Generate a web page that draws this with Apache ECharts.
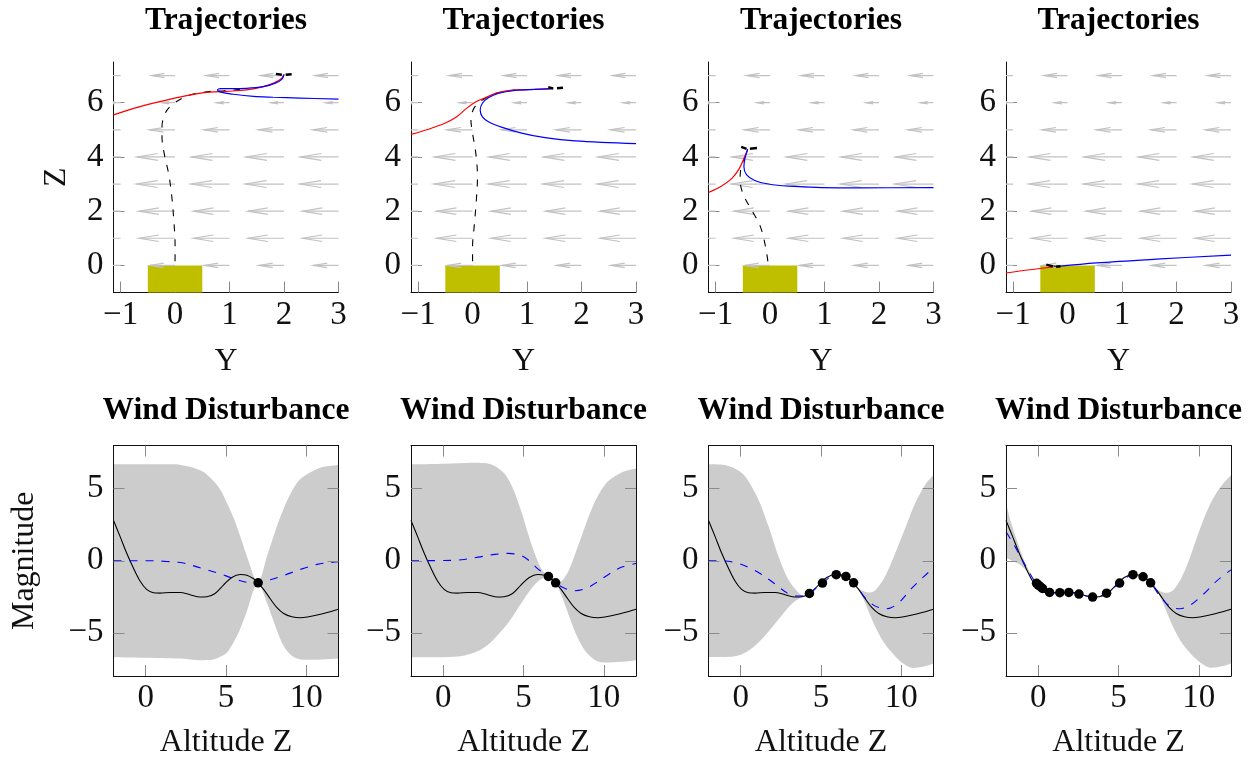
<!DOCTYPE html>
<html><head><meta charset="utf-8">
<style>html,body{margin:0;padding:0;background:#fff}#c{width:1255px;height:759px}</style>
<script src="https://cdn.jsdelivr.net/npm/echarts@6/dist/echarts.min.js"></script>
</head><body><div id="c"></div>
<script>
// ---- Wind field (quiver) ----
const quiverTailsY = [-1, 0, 1, 2, 3];
const quiverRowsZ = [0, 1, 2, 3, 4, 5, 6, 7];
const quiverLengths = [0.46, 0.66, 0.66, 0.71, 0.70, 0.47, 0.24, 0.43];
const padY = [-0.5, 0.5];
const padZ = [-1, 0];

// ---- Trajectories: [Y, Z] ----
const red1 = [[-1.13,5.55],[-0.76,5.79],[-0.28,6.04],[0.21,6.26],[0.58,6.38],[0.95,6.42],[1.31,6.47],[1.62,6.59],[1.83,6.74],[1.96,6.9],[2.0,7.04]];
const blue1 = [[2.0,7.04],[1.96,6.86],[1.83,6.71],[1.62,6.59],[1.31,6.53],[1.01,6.52],[0.83,6.52],[0.78,6.47],[0.84,6.39],[1.07,6.31],[1.44,6.23],[1.8,6.2],[2.29,6.17],[3.0,6.13]];
const black1 = [[0,0.15],[0,0.82],[-0.02,1.56],[-0.06,2.54],[-0.12,3.4],[-0.2,4.13],[-0.24,4.75],[-0.24,5.12],[-0.18,5.61],[-0.06,5.91],[0.21,6.24],[0.58,6.4],[0.89,6.44],[1.19,6.49]];
const drone1 = [[1.85,7.06],[1.96,7.03],null,[2.03,7.03],[2.14,7.05]];

const red2 = [[-1.13,4.83],[-0.81,5.02],[-0.51,5.24],[-0.29,5.48],[-0.11,5.79],[0.07,6.04],[0.23,6.18],[0.47,6.37],[0.78,6.47],[1.14,6.49],[1.48,6.52]];
const blue2 = [[1.48,6.52],[1.14,6.49],[0.78,6.45],[0.47,6.34],[0.29,6.18],[0.18,5.98],[0.14,5.73],[0.18,5.48],[0.3,5.29],[0.53,5.1],[0.9,4.88],[1.33,4.71],[1.88,4.59],[3,4.49]];
const black2 = [[0,0.15],[0,0.7],[0.03,1.44],[0.07,2.42],[0.09,3.28],[0.06,4.13],[0,4.87],[-0.03,5.36],[0.01,5.73],[0.1,5.98],[0.25,6.18],[0.41,6.34],[0.78,6.47]];
const drone2 = [[1.39,6.57],[1.48,6.53],null,[1.55,6.53],[1.66,6.55]];

const red3 = [[-1.13,2.69],[-0.89,2.93],[-0.7,3.21],[-0.58,3.52],[-0.49,3.89],[-0.41,4.28]];
const blue3 = [[-0.41,4.28],[-0.46,3.95],[-0.48,3.64],[-0.43,3.34],[-0.28,3.13],[-0.03,3.0],[0.34,2.92],[0.95,2.87],[1.68,2.86],[3.0,2.87]];
const black3 = [[-0.04,0.15],[-0.09,0.76],[-0.18,1.44],[-0.34,2.05],[-0.49,2.6],[-0.55,3.15],[-0.53,3.64],[-0.46,4.01],[-0.41,4.26]];
const drone3 = [[-0.53,4.37],[-0.43,4.3],null,[-0.37,4.3],[-0.24,4.33]];

const red4 = [[-1.13,-0.28],[-0.69,-0.16],[-0.26,-0.06]];
const blue4 = [[-0.17,-0.04],[0.53,0.09],[1.63,0.23],[3,0.38]];
const black4 = [[-0.26,-0.02],[-0.17,-0.04]];
const drone4 = [[-0.39,0.03],[-0.27,-0.04],null,[-0.21,-0.05],[-0.13,-0.03]];

// ---- True wind disturbance: [Z, W] ----
const windTrue = [[-2,2.8],[-1.6,1.71],[-1.19,0.55],[-0.77,-0.49],[-0.35,-1.41],[0.06,-1.99],[0.48,-2.22],[0.89,-2.25],[1.52,-2.2],[2.14,-2.2],[2.77,-2.36],[3.39,-2.52],[3.8,-2.5],[4.32,-2.27],[4.84,-1.69],[5.36,-1.16],[5.88,-0.95],[6.3,-1.0],[6.72,-1.25],[6.99,-1.53],[7.34,-1.99],[7.75,-2.64],[8.17,-3.26],[8.59,-3.66],[9.1,-3.89],[9.63,-3.96],[10.15,-3.89],[10.67,-3.77],[11.29,-3.59],[12,-3.36]];

// ---- GP posterior per panel ----
const upper1 = [[-2,6.69],[-0.15,6.69],[1.73,6.69],[2.35,6.62],[2.97,6.46],[3.6,6.16],[4.12,5.65],[4.64,4.95],[5.05,4.03],[5.47,2.98],[5.88,1.71],[6.3,0.32],[6.99,-1.53],[7.55,0.32],[8.17,2.4],[8.79,4.14],[9.42,5.42],[10.04,6.0],[10.87,6.46],[12,6.64]];
const lower1 = [[-2,-6.69],[2.14,-6.78],[3.39,-6.9],[4.22,-6.85],[4.64,-6.67],[5.05,-6.39],[5.36,-5.88],[5.68,-5.23],[5.99,-4.42],[6.3,-3.5],[6.99,-1.53],[7.55,-2.92],[7.96,-4.19],[8.48,-5.69],[9.0,-6.5],[9.63,-6.85],[10.25,-6.88],[12,-6.78]];
const mean1 = [[-2,0],[0.27,0],[1.31,-0.05],[2.35,-0.16],[3.39,-0.49],[4.43,-0.83],[5.47,-1.23],[6.3,-1.5],[6.99,-1.53],[7.75,-1.32],[8.59,-1.02],[9.63,-0.6],[10.67,-0.25],[11.29,-0.14],[12,-0.07]];
const obs1 = [[7,-1.53]];

const upper2 = [[-2,6.69],[0.1,6.74],[1.77,6.81],[2.6,6.78],[3.22,6.57],[3.85,6.0],[4.37,4.95],[4.89,3.33],[5.3,1.83],[5.72,0.44],[6.13,-0.6],[6.55,-1.09],[7.0,-1.53],[7.38,-1.41],[7.8,-0.72],[8.32,0.79],[8.84,2.41],[9.46,4.14],[10.08,5.3],[10.71,5.88],[11.33,6.23],[12,6.41]];
const lower2 = [[-2,-6.69],[0.1,-6.69],[1.35,-6.57],[2.18,-6.27],[2.81,-5.81],[3.43,-5.12],[4.05,-4.31],[4.68,-3.26],[5.3,-2.22],[5.93,-1.41],[6.55,-1.09],[7.0,-1.53],[7.38,-2.45],[7.8,-3.73],[8.32,-5.23],[8.84,-6.27],[9.46,-6.9],[10.08,-7.06],[11.12,-7.01],[12,-6.9]];
const mean2 = [[-2,0],[0.1,0.02],[1.14,0.07],[2.18,0.25],[3.22,0.44],[4.05,0.51],[4.78,0.39],[5.3,0.05],[5.93,-0.6],[6.55,-1.09],[7.0,-1.53],[7.59,-1.92],[8.21,-2.08],[8.84,-1.94],[9.46,-1.57],[10.29,-0.95],[11.12,-0.44],[12,-0.19]];
const obs2 = [[6.55,-1.09],[7,-1.53]];

const upper3 = [[-2,6.69],[-0.98,6.64],[-0.25,6.34],[0.27,5.88],[1.1,4.26],[1.73,2.41],[2.35,0.32],[2.97,-1.3],[3.6,-2.22],[4.01,-2.45],[4.28,-2.27],[5.09,-1.55],[5.95,-0.97],[6.55,-1.09],[7.03,-1.53],[7.44,-1.99],[7.96,-2.2],[8.38,-2.04],[9.0,-1.06],[9.63,0.56],[10.25,2.29],[10.87,4.03],[11.5,5.3],[12,5.95]];
const lower3 = [[-2,-6.69],[-0.56,-6.67],[0.27,-6.39],[1.1,-5.69],[1.93,-4.65],[2.77,-3.5],[3.39,-2.8],[4.01,-2.45],[4.28,-2.27],[5.09,-1.55],[5.95,-0.97],[6.55,-1.09],[7.03,-1.53],[7.55,-2.45],[8.17,-4.07],[8.79,-5.46],[9.42,-6.39],[10.04,-7.08],[10.77,-7.45],[11.5,-7.31],[12,-7.13]];
const mean3 = [[-2,0],[-0.98,-0.02],[-0.15,-0.19],[0.69,-0.56],[1.31,-0.95],[2.04,-1.53],[2.77,-2.15],[3.39,-2.45],[4.01,-2.45],[4.28,-2.27],[5.09,-1.55],[5.95,-0.97],[6.55,-1.09],[7.03,-1.53],[7.75,-2.57],[8.38,-3.15],[9.1,-3.33],[9.83,-2.92],[10.67,-1.88],[11.7,-0.79],[12,-0.49]];
const obs3 = [[4.28,-2.27],[5.09,-1.55],[5.95,-0.97],[6.55,-1.09],[7.03,-1.53]];

const upper4 = [[-2,4.03],[-1.68,2.64],[-1.27,1.25],[-0.85,-0.02],[-0.44,-0.95],[-0.1,-1.57],[0.71,-2.2],[1.35,-2.22],[1.91,-2.2],[2.54,-2.31],[3.39,-2.52],[4.26,-2.25],[5.07,-1.55],[5.9,-0.97],[6.53,-1.11],[7.0,-1.53],[7.46,-2.04],[7.98,-2.22],[8.4,-2.04],[8.92,-1.18],[9.44,0.21],[10.06,2.18],[10.69,3.91],[11.31,5.07],[12,5.95]];
const lower4 = [[-2,0.21],[-1.58,-0.02],[-1.16,-0.25],[-0.75,-0.67],[-0.44,-1.06],[-0.1,-1.57],[0.71,-2.2],[1.35,-2.22],[1.91,-2.2],[2.54,-2.31],[3.39,-2.52],[4.26,-2.25],[5.07,-1.55],[5.9,-0.97],[6.53,-1.11],[7.0,-1.53],[7.57,-2.45],[8.19,-4.07],[8.81,-5.46],[9.44,-6.39],[10.06,-7.04],[10.79,-7.43],[11.52,-7.31],[12,-7.13]];
const mean4 = [[-2,2.01],[-1.58,1.25],[-1.06,0.21],[-0.54,-0.83],[-0.1,-1.57],[0.71,-2.2],[1.35,-2.22],[1.91,-2.2],[2.54,-2.31],[3.39,-2.52],[4.26,-2.25],[5.07,-1.55],[5.9,-0.97],[6.53,-1.11],[7.0,-1.53],[7.57,-2.45],[8.19,-3.15],[8.81,-3.33],[9.44,-3.1],[10.27,-2.34],[11.1,-1.41],[12,-0.63]];
const obs4 = [[-0.1,-1.57],[0,-1.67],[0.12,-1.78],[0.27,-1.92],[0.71,-2.2],[1.35,-2.22],[1.91,-2.2],[2.54,-2.31],[3.39,-2.52],[4.26,-2.25],[5.07,-1.55],[5.9,-0.97],[6.53,-1.11],[7,-1.53]];

// ---- Labels and ticks ----
const topTitle = 'Trajectories';
const bottomTitle = 'Wind Disturbance';
const topXName = 'Y';
const topYName = 'Z';
const bottomXName = 'Altitude Z';
const bottomYName = 'Magnitude';
const topXTicks = [-1, 0, 1, 2, 3];
const topYTicks = [0, 2, 4, 6];
const bottomXTicks = [0, 5, 10];
const bottomYTicks = [-5, 0, 5];

const panels = [
  {red:red1,blue:blue1,black:black1,drone:drone1,upper:upper1,lower:lower1,mean:mean1,obs:obs1},
  {red:red2,blue:blue2,black:black2,drone:drone2,upper:upper2,lower:lower2,mean:mean2,obs:obs2},
  {red:red3,blue:blue3,black:black3,drone:drone3,upper:upper3,lower:lower3,mean:mean3,obs:obs3},
  {red:red4,blue:blue4,black:black4,drone:drone4,upper:upper4,lower:lower4,mean:mean4,obs:obs4}
];

// ---- Layout ----
const FONT = '"Liberation Serif", "Times New Roman", serif';
const lefts = [113.5, 411, 708.5, 1006];
const W = 225, topT = 62, topH = 230.5, botT = 445.5, botH = 230.5;
const tickColor = '#8a8a8a', axisColor = '#111';
const fmt = v => String(v).replace('-', '\u2212');

function axis(pos, min, max, ticks, opts) {
  const isX = pos==='bottom';
  const o = Object.assign({
    type:'value', position:pos, min, max, z:5,
    splitLine:{show:false},
    axisLine:{show:true,onZero:false,lineStyle:{color:axisColor,width:1}},
    axisTick:{show:true,inside:true,length:11,customValues:ticks,lineStyle:{color:tickColor,width:1}},
    axisLabel:{show:true,customValues:ticks,formatter:fmt,color:'#111',fontSize:33,fontFamily:FONT,margin:isX?6:10,hideOverlap:false,showMinLabel:true,showMaxLabel:true},
    nameTextStyle:{color:'#111',fontSize:32,fontFamily:FONT}
  }, opts||{});
  return o;
}
const quiverData = [];
quiverRowsZ.forEach((z,i)=>quiverTailsY.forEach(y=>quiverData.push([y,z,quiverLengths[i]])));

function renderArrow(params, api){
  const tail = api.coord([api.value(0),api.value(1)]);
  const tip = api.coord([api.value(0)-api.value(2),api.value(1)]);
  const L = tail[0]-tip[0], hl = L*0.55, hw = L*0.09;
  return {type:'group',children:[
    {type:'polyline',shape:{points:[[tip[0]+hl,tip[1]-hw],[tip[0],tip[1]],[tip[0]+hl,tip[1]+hw]]},style:{fill:null,stroke:'#c2c2c2',lineWidth:1.2}},
    {type:'line',shape:{x1:tip[0],y1:tip[1],x2:tail[0],y2:tail[1]},style:{stroke:'#c2c2c2',lineWidth:1.2}}
  ]};
}
function renderRect(params, api){
  const a = api.coord([api.value(0),api.value(3)]), b = api.coord([api.value(1),api.value(2)]);
  return {type:'rect',shape:{x:a[0],y:a[1],width:b[0]-a[0],height:b[1]-a[1]},style:{fill:'#bfbf00'}};
}
const lineS = (data,color,w,xi,yi,z,extra)=>Object.assign({
  type:'line',data,xAxisIndex:xi,yAxisIndex:yi,symbol:'none',showSymbol:false,smooth:0.35,z,silent:true,clip:true,animation:false,
  lineStyle:{color,width:w}},extra||{});
const edgeS = (data,fill,xi,yi,z)=>lineS(data,fill,0,xi,yi,z,{smooth:0.3,areaStyle:{color:fill,opacity:1,origin:'start'},lineStyle:{width:0,opacity:0}});

const titles=[],grids=[],xAxes=[],yAxes=[],series=[];
panels.forEach((p,i)=>{
  const cx = lefts[i]+W/2-5;
  titles.push({text:topTitle,left:cx,top:0,textAlign:'center',textStyle:{fontFamily:FONT,fontSize:31.5,fontWeight:'bold',color:'#000'}});
  titles.push({text:bottomTitle,left:cx,top:390,textAlign:'center',textStyle:{fontFamily:FONT,fontSize:31.5,fontWeight:'bold',color:'#000'}});

  // top panel
  let g = grids.length;
  grids.push({left:lefts[i],top:topT,width:W,height:topH,outerBoundsMode:'none'});
  let xi = xAxes.length, yi = yAxes.length;
  xAxes.push(axis('bottom',-1.13,3,topXTicks,{gridIndex:g,z:1,name:topXName,nameLocation:'middle',nameGap:53}));
  yAxes.push(axis('left',-1,7.5,topYTicks,Object.assign({gridIndex:g,z:1},i===0?{name:topYName,nameLocation:'middle',nameGap:41}:{})));
  series.push({type:'custom',xAxisIndex:xi,yAxisIndex:yi,data:[[padY[0],padY[1],padZ[0],padZ[1]]],renderItem:renderRect,z:2,silent:true,animation:false});
  series.push({type:'custom',xAxisIndex:xi,yAxisIndex:yi,data:quiverData,renderItem:renderArrow,clip:true,z:3,silent:true,animation:false,encode:{x:0,y:1}});
  series.push(lineS(p.black,'#000',1.1,xi,yi,4,{lineStyle:{color:'#000',width:1.1,type:[7,8]}}));
  series.push(lineS(p.red,'#ff0000',1.2,xi,yi,5));
  series.push(lineS(p.blue,'#0000ff',1.2,xi,yi,6));
  series.push(lineS(p.drone,'#000',2.4,xi,yi,7,{smooth:false,connectNulls:false}));

  // bottom panel
  g = grids.length;
  grids.push({left:lefts[i],top:botT,width:W,height:botH,outerBoundsMode:'none'});
  xi = xAxes.length; yi = yAxes.length;
  xAxes.push(axis('bottom',-2,12,bottomXTicks,{gridIndex:g,name:bottomXName,nameLocation:'middle',nameGap:51}));
  xAxes.push(axis('top',-2,12,bottomXTicks,{gridIndex:g,axisLabel:{show:false}}));
  yAxes.push(axis('left',-8,8,bottomYTicks,Object.assign({gridIndex:g},i===0?{name:bottomYName,nameLocation:'middle',nameGap:73}:{})));
  yAxes.push(axis('right',-8,8,bottomYTicks,{gridIndex:g,axisLabel:{show:false}}));
  series.push(edgeS(p.upper,'#cccccc',xi,yi,1));
  series.push(edgeS(p.lower,'#ffffff',xi,yi,1.5));
  series.push(lineS(windTrue,'#000',1.1,xi,yi,3));
  series.push(lineS(p.mean,'#0000ff',1.1,xi,yi,4,{lineStyle:{color:'#0000ff',width:1.1,type:[8,8]}}));
  series.push({type:'scatter',data:p.obs,xAxisIndex:xi,yAxisIndex:yi,symbol:'circle',symbolSize:9.5,itemStyle:{color:'#000',opacity:1},z:6,silent:true,animation:false});
});

const chart = echarts.init(document.getElementById('c'),null,{renderer:'canvas'});
chart.setOption({animation:false,backgroundColor:'#fff',title:titles,grid:grids,xAxis:xAxes,yAxis:yAxes,series});
</script></body></html>
